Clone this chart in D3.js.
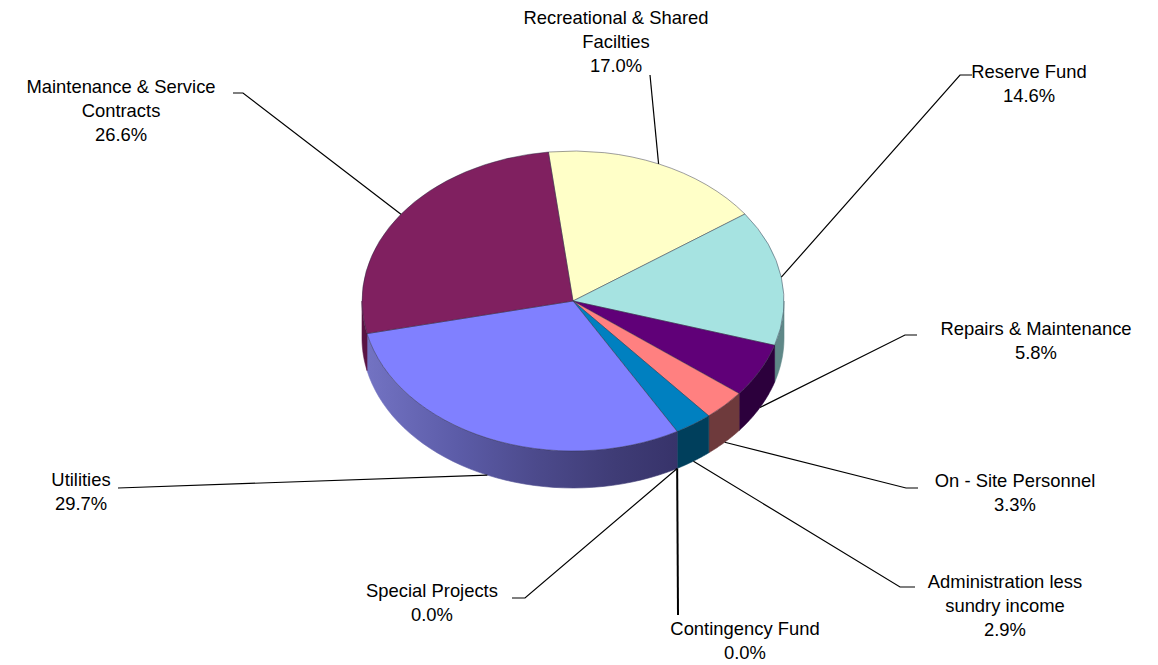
<!DOCTYPE html>
<html>
<head>
<meta charset="utf-8">
<title>Budget allocation</title>
<script src="https://cdn.jsdelivr.net/npm/d3@7"></script>
<style>
  html, body { margin: 0; padding: 0; background: #fff; }
  svg { display: block; }
  text { font-family: "Liberation Sans", Arial, sans-serif; font-size: 18.4px; fill: #000; text-anchor: middle; }
</style>
</head>
<body>
<svg id="chart" width="1158" height="665"></svg>
<script>
// Budget categories, clockwise from the top of the pie
const categories = [
  "Recreational & Shared Facilties", "Reserve Fund", "Repairs & Maintenance",
  "On - Site Personnel", "Administration less sundry income", "Contingency Fund",
  "Special Projects", "Utilities", "Maintenance & Service Contracts"
];
const shares = [17.0, 14.6, 5.8, 3.3, 2.9, 0.0, 0.0, 29.7, 26.6];

// Wrapped label text for each category
const labelLines = [
  ["Recreational & Shared", "Facilties"], ["Reserve Fund"], ["Repairs & Maintenance"],
  ["On - Site Personnel"], ["Administration less", "sundry income"], ["Contingency Fund"],
  ["Special Projects"], ["Utilities"], ["Maintenance & Service", "Contracts"]
];

// Label placement: centre x, first baseline y, leader elbow and leader start
const labelX = [616, 1029, 1036, 1015, 1005, 745, 432, 81, 121];
const labelY = [24, 78, 335, 487, 588, 635, 597, 486, 93];
const leaderStart = [[650, 75], [972, 75], [917, 335], [918, 488], [915, 587], [678, 615], [512, 598], [118, 488], [233, 93]];
const leaderElbow = [[650, 75], [960, 75], [905, 335], [906, 488], [900, 587], [678, 615], [525, 598], [118, 488], [243, 93]];

const topColors = ["#ffffc8", "#a6e3e1", "#600078", "#ff8080", "#0080c0", "#0080c0", "#0080c0", "#8080ff", "#802060"];
const wallColors = ["#808060", "#5f8888", "#2c003c", "#6e3a3c", "#003f5c", "#003f5c", "#003f5c", "url(#wallUtilities)", "#5a1444"];

const cx = 573, cy = 301, rx = 211, ry = 150, depth = 37;
const startDeg = -6.7;

const svg = d3.select("#chart");

// Horizontal shading on the large front wall
const grad = svg.append("defs").append("linearGradient")
  .attr("id", "wallUtilities").attr("gradientUnits", "userSpaceOnUse")
  .attr("x1", cx - rx).attr("x2", cx + 105).attr("y1", 0).attr("y2", 0);
grad.selectAll("stop")
  .data([[0, "#7474c4"], [0.3, "#5c5ca8"], [0.55, "#4c4a8c"], [0.8, "#3f3c76"], [1, "#37336a"]])
  .join("stop")
  .attr("offset", d => d[0])
  .attr("stop-color", d => d[1]);

const pie = d3.pie().sort(null)
  .startAngle(startDeg * Math.PI / 180)
  .endAngle((startDeg + 360) * Math.PI / 180);
const arcs = pie(shares);

const px = a => cx + rx * Math.sin(a);
const py = a => cy - ry * Math.cos(a);

// Front walls: only the part of each slice between 90 and 270 degrees shows
const line = d3.line();
const wallPath = d => {
  const a0 = Math.max(d.startAngle, Math.PI / 2);
  const a1 = Math.min(d.endAngle, Math.PI * 3 / 2);
  if (a1 <= a0) return null;
  const steps = d3.range(0, 41).map(i => a0 + (a1 - a0) * i / 40);
  const upper = steps.map(a => [px(a), py(a)]);
  const lower = steps.slice().reverse().map(a => [px(a), py(a) + depth]);
  return line(upper.concat(lower)) + "Z";
};

svg.append("g").selectAll("path")
  .data(arcs.filter(d => wallPath(d)))
  .join("path")
  .attr("d", wallPath)
  .attr("fill", d => wallColors[d.index])
  .attr("stroke", d => wallColors[d.index])
  .attr("stroke-width", 0.6);

// Top face: a circular pie flattened into an ellipse
const arc = d3.arc().innerRadius(0).outerRadius(rx);
svg.append("g")
  .attr("transform", `translate(${cx},${cy}) scale(1,${ry / rx})`)
  .selectAll("path")
  .data(arcs.filter(d => d.value > 0))
  .join("path")
  .attr("d", arc)
  .attr("fill", d => topColors[d.index])
  .attr("stroke", "#2a2a40")
  .attr("stroke-opacity", 0.65)
  .attr("stroke-width", 0.7)
  .attr("vector-effect", "non-scaling-stroke");

// Leader lines run to the slice midpoint on the visible outer edge
const anchor = d => {
  const mid = (d.startAngle + d.endAngle) / 2;
  const front = Math.cos(mid) < -0.3;
  return [px(mid), py(mid) + (front ? depth : 0)];
};
svg.append("g").selectAll("path")
  .data(arcs)
  .join("path")
  .attr("d", d => line([leaderStart[d.index], leaderElbow[d.index], anchor(d)]))
  .attr("fill", "none")
  .attr("stroke", "#000")
  .attr("stroke-width", d => d.index === 5 ? 2 : 1.2);

// Category name, wrapped, with the share underneath
const labels = svg.append("g").selectAll("text")
  .data(arcs)
  .join("text")
  .attr("x", d => labelX[d.index])
  .attr("y", d => labelY[d.index]);
labels.selectAll("tspan")
  .data(d => labelLines[d.index].concat([d3.format(".1f")(d.value) + "%"]).map(t => ({ t, x: labelX[d.index] })))
  .join("tspan")
  .attr("x", d => d.x)
  .attr("dy", (d, i) => i === 0 ? 0 : 24)
  .text(d => d.t);
</script>
</body>
</html>
